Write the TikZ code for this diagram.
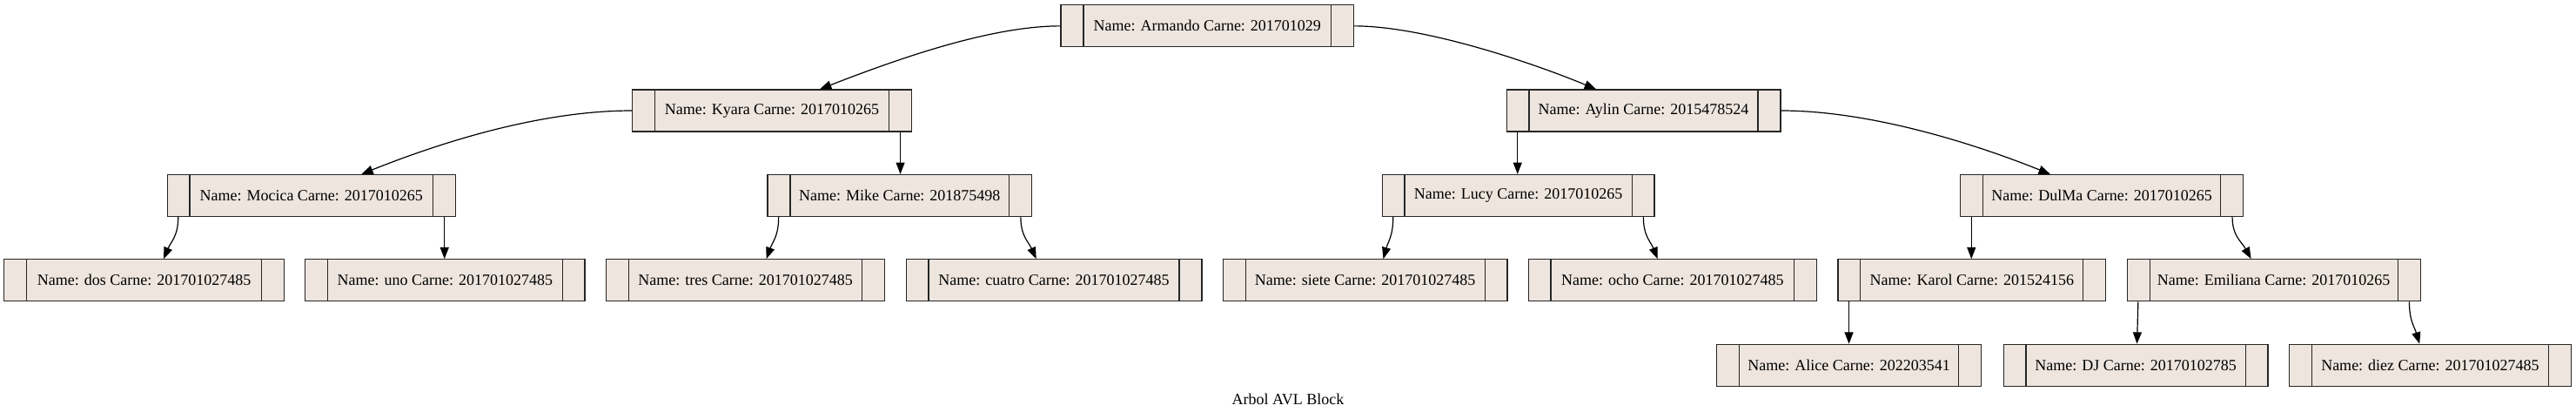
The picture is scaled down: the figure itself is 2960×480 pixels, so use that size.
\documentclass[tikz,border=0pt]{standalone}
\usepackage{fontspec}
\setmainfont{Liberation Serif}
\usetikzlibrary{arrows.meta,calc}
\definecolor{seashell}{HTML}{EEE5DE}
\definecolor{linecol}{HTML}{262626}
\tikzset{
  rec/.style={draw=linecol, fill=seashell, line width=0.9pt, minimum height=36pt,
    inner sep=0pt, font=\fontsize{13.5}{16}\selectfont},
  recdiv/.style={draw=linecol, line width=0.9pt},
  edge/.style={draw=black, line width=0.9pt, -{Triangle[length=10pt,width=7.5pt]}},
  caption/.style={font=\fontsize{13.5}{16}\selectfont, inner sep=0pt}
}
\newcommand\rec[5]{%
  \node[rec, minimum width=#4*0.75pt] (#1) at (#2,#3) {#5};
  \draw[recdiv] ([xshift=19.875pt]#1.north west) -- ([xshift=19.875pt]#1.south west);
  \draw[recdiv] ([xshift=-19.875pt]#1.north east) -- ([xshift=-19.875pt]#1.south east);
  \coordinate (#1-l) at ([xshift=9.9375pt]#1.south west);
  \coordinate (#1-r) at ([xshift=-9.9375pt]#1.south east);
}
\begin{document}
\begin{tikzpicture}[x=0.75pt,y=-0.75pt]
\useasboundingbox (0,0) rectangle (2960,480);
% rank 0
\rec{root}{1387.25}{29.85}{336.5}{Name: Armando Carne: 201701029}
% rank 1
\rec{kyara}{887}{127}{320.4}{Name: Kyara Carne: 2017010265}
\rec{aylin}{1888.5}{127}{314.8}{Name: Aylin Carne: 2015478524}
% rank 2
\rec{mocica}{357.75}{224.5}{331.3}{Name: Mocica Carne: 2017010265}
\rec{mike}{1033.75}{224.5}{303.5}{Name: Mike Carne: 201875498}
\rec{lucy}{1744.55}{224.5}{312.9}{Name: Lucy Carne: 2017010265}
\rec{dulma}{2415.15}{224.5}{325.1}{Name: DulMa Carne: 2017010265}
% rank 3
\rec{dos}{165.65}{321.8}{321.9}{Name: dos Carne: 201701027485}
\rec{uno}{511.35}{321.8}{321.3}{Name: uno Carne: 201701027485}
\rec{tres}{856.6}{321.8}{320}{Name: tres Carne: 201701027485}
\rec{cuatro}{1211}{321.8}{339.8}{Name: cuatro Carne: 201701027485}
\rec{siete}{1568.7}{321.8}{326.6}{Name: siete Carne: 201701027485}
\rec{ocho}{1921.75}{321.8}{331.3}{Name: ocho Carne: 201701027485}
\rec{karol}{2265.75}{321.8}{307.7}{Name: Karol Carne: 201524156}
\rec{emiliana}{2612.65}{321.8}{336.9}{Name: Emiliana Carne: 2017010265}
% rank 4
\rec{alice}{2124.65}{419.3}{303.9}{Name: Alice Carne: 202203541}
\rec{dj}{2454.05}{419.3}{303.9}{Name: DJ Carne: 20170102785}
\rec{diez}{2792.45}{419.3}{323.7}{Name: diez Carne: 201701027485}
% caption
\node[caption] (cap) at (1480,458) {Arbol AVL Block};
% edges
\draw[edge] (root.west) .. controls +(-80,0) and +(90,-35) .. ($(kyara.north)+(55,0)$);
\draw[edge] (root.east) .. controls +(80,0) and +(-75,-31) .. ($(aylin.north)+(-54.5,0)$);
\draw[edge] (kyara.west) .. controls +(-100,0) and +(100,-40) .. ($(mocica.north)+(57.55,0)$);
\draw[edge] (kyara-r) -- (kyara-r |- mike.north);
\draw[edge] (aylin-l) -- (aylin-l |- lucy.north);
\draw[edge] (aylin.east) .. controls +(95,0) and +(-100,-40) .. ($(dulma.north)+(-59.25,0)$);
\draw[edge] (mocica-l) .. controls +(0,22) and +(8.5,-20) .. ($(dos.north)+(22.35,0)$);
\draw[edge] (mocica-r) -- (mocica-r |- uno.north);
\draw[edge] (mike-l) .. controls +(0,22) and +(7.3,-20) .. ($(tres.north)+(24,0)$);
\draw[edge] (mike-r) .. controls +(0,22) and +(-9,-20) .. ($(cuatro.north)+(-20.3,0)$);
\draw[edge] (lucy-l) .. controls +(0,22) and +(5.5,-20) .. ($(siete.north)+(20.8,0)$);
\draw[edge] (lucy-r) .. controls +(0,22) and +(-8,-20) .. ($(ocho.north)+(-17,0)$);
\draw[edge] (dulma-l) -- (dulma-l |- karol.north);
\draw[edge] (dulma-r) .. controls +(0,22) and +(-11,-20) .. ($(emiliana.north)+(-26,0)$);
\draw[edge] (karol-l) -- (karol-l |- alice.north);
\draw[edge] (emiliana-l) -- ($(dj.north)+(1.5,0)$);
\draw[edge] (emiliana-r) .. controls +(0,22) and +(-6,-20) .. ($(diez.north)+(-12.25,0)$);
\end{tikzpicture}
\end{document}
